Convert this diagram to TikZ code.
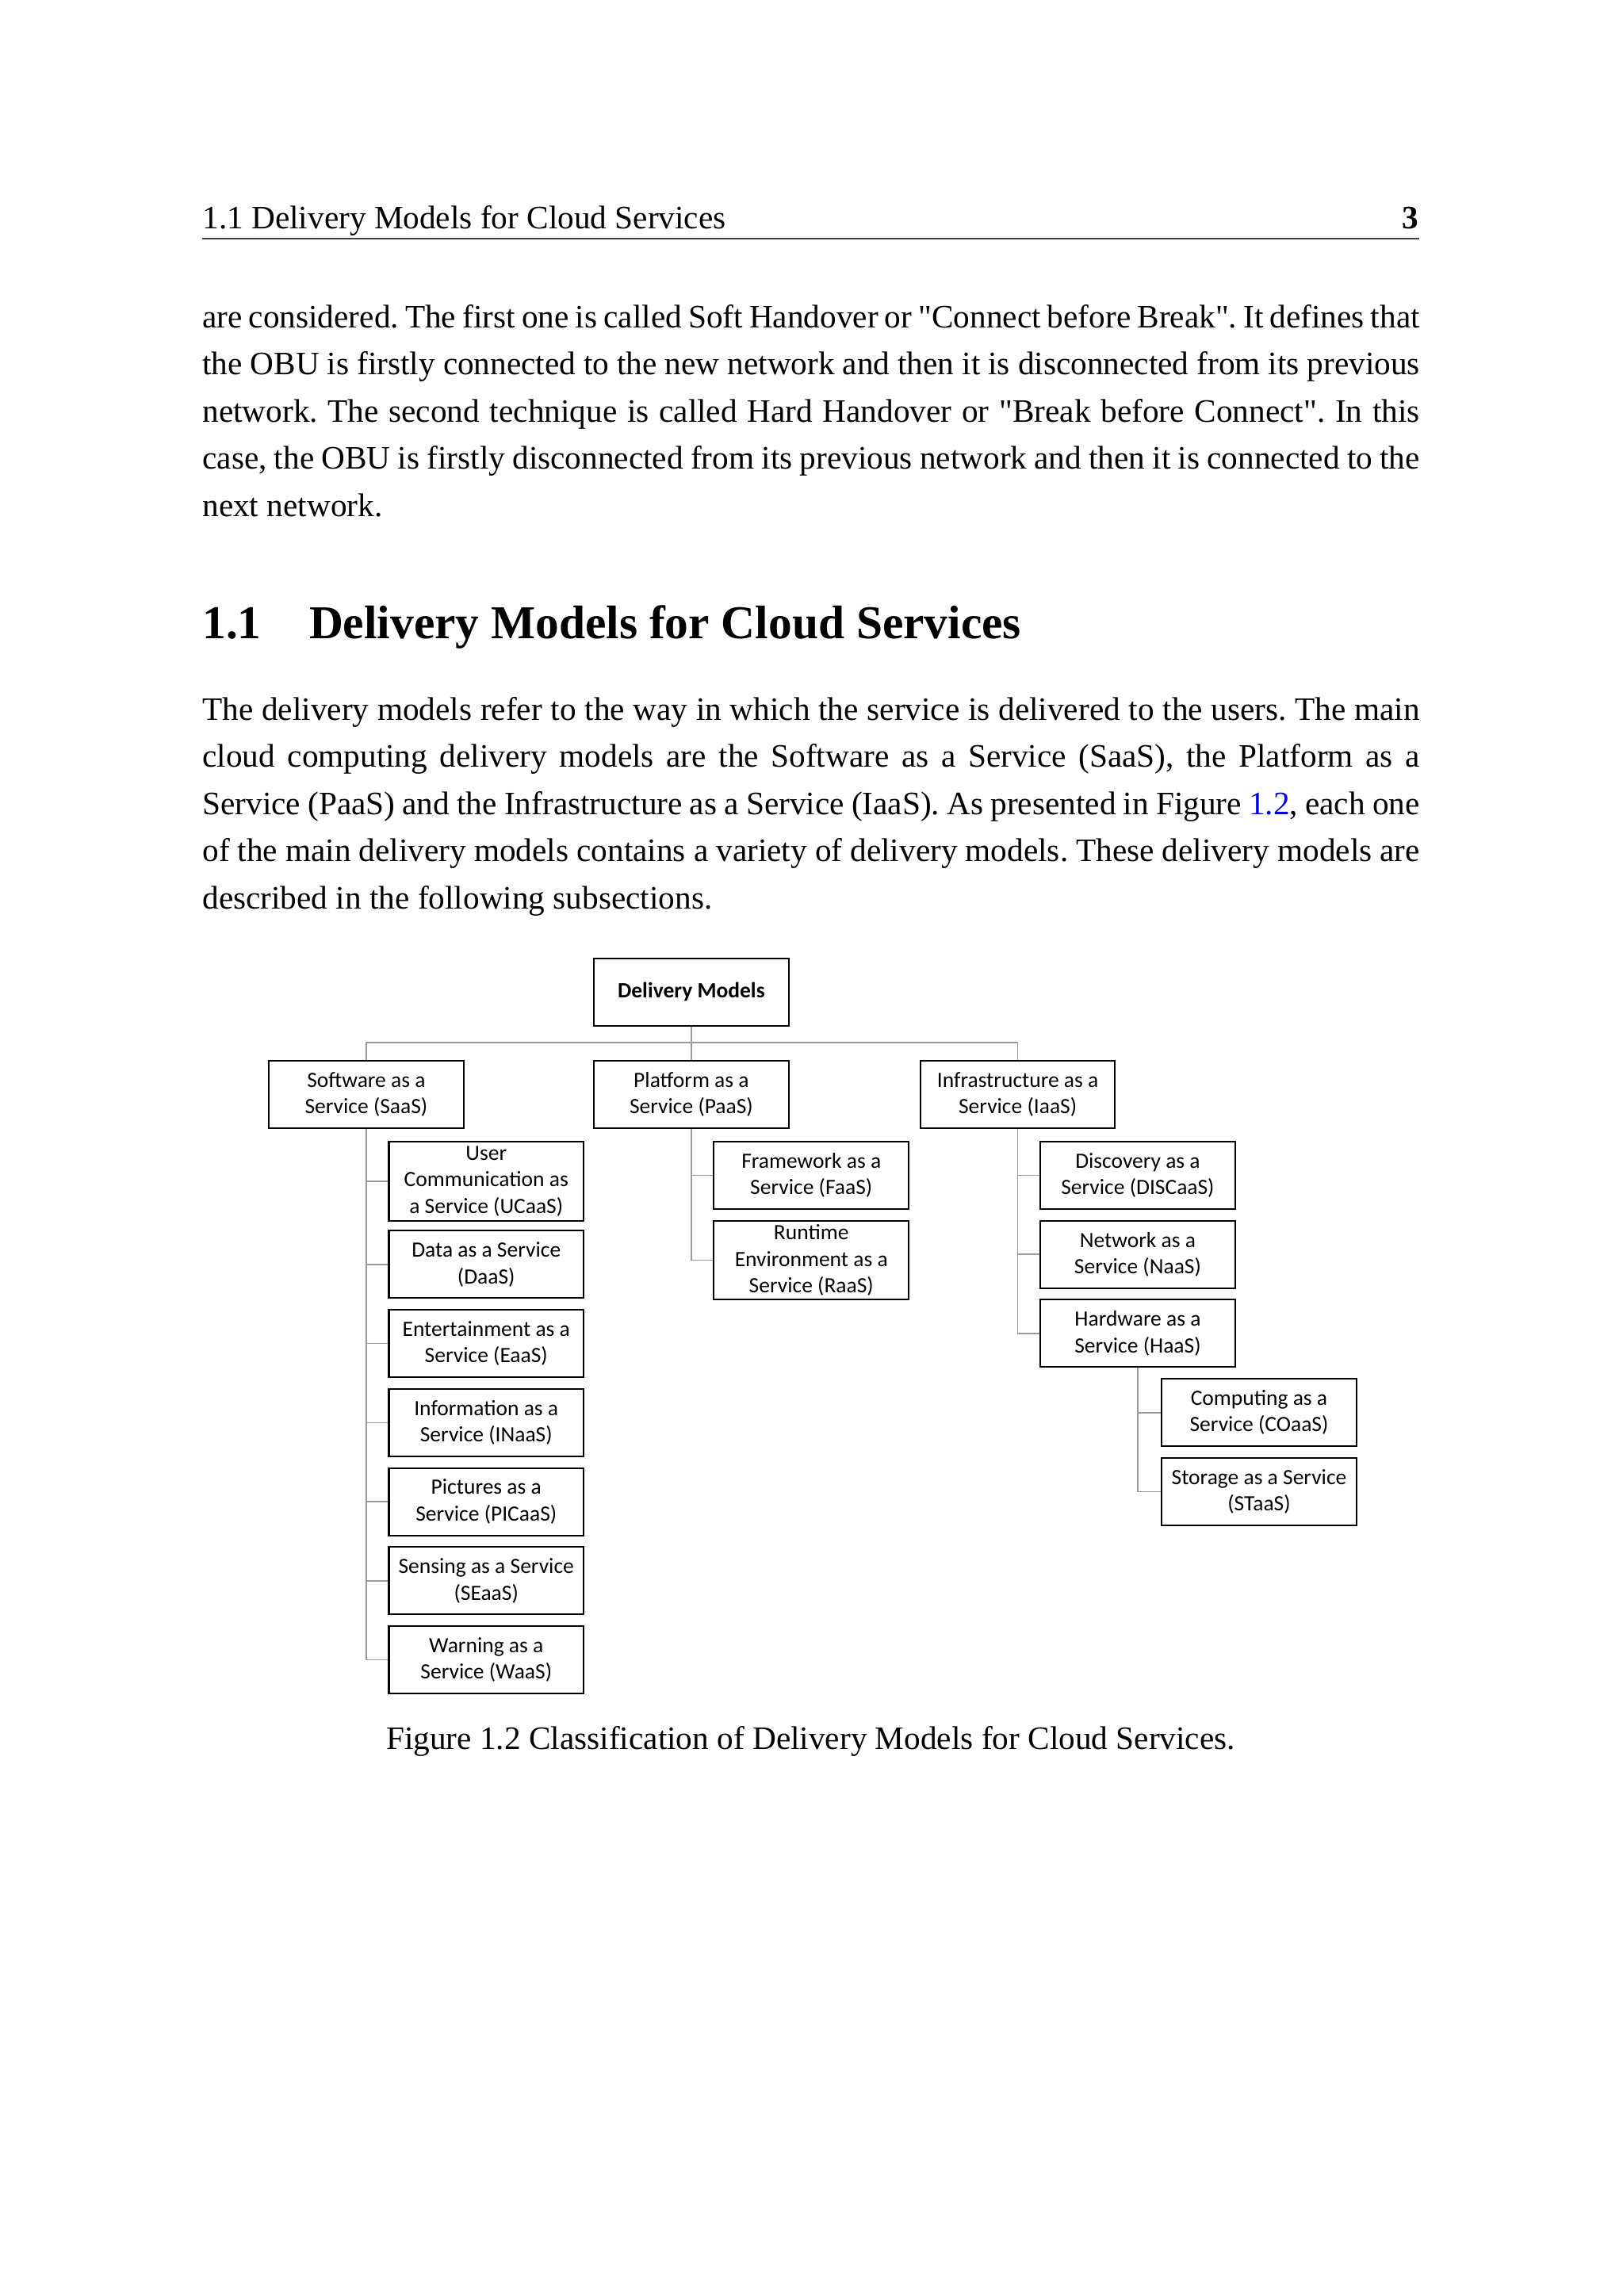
\documentclass[tikz,border=0pt]{standalone}
\usepackage{fontspec}
\setmainfont{Liberation Serif}[Ligatures=TeXOff]
\newfontfamily\chartfont{Carlito}
\usetikzlibrary{positioning}
\usepackage{xcolor}
\definecolor{linkgray}{gray}{0.6}
\definecolor{refblue}{rgb}{0,0,0.9}
\frenchspacing
\newcommand\fullline[1]{{\spaceskip=3pt plus 4pt minus 1.5pt\makebox[446.4pt][s]{#1}}}

\begin{document}
\begin{tikzpicture}[x=1pt,y=1pt,
  model/.style={draw, line width=0.6pt, minimum width=71.4pt, minimum height=24.7pt, inner sep=1pt, align=center, font=\chartfont\fontsize{8}{9.7}\selectfont},
  tall/.style={model, minimum height=29pt},
  link/.style={draw=linkgray, line width=0.5pt},
  plain/.style={anchor=base west, inner sep=0pt, font=\fontsize{12}{14}\selectfont},
  heading/.style={plain, font=\fontsize{17.28}{20}\selectfont\bfseries}]
\useasboundingbox[fill=white] (0,0) rectangle (595,-842);

\node[plain] (runhead) at (74.05,-83.8) {1.1 Delivery Models for Cloud Services};
\node[plain, anchor=base east, font=\fontsize{12}{14}\selectfont\bfseries] (pagenum) at (520.5,-83.8) {3};
\draw[line width=0.5pt, black!75] (74.05,-87.6) -- (520.5,-87.6);

\node[plain] (pa1) at (74.05,-120.2) {\fullline{are considered. The first one is called Soft Handover or "Connect before Break". It defines that}};
\node[plain] (pa2) at (74.05,-137.5) {\fullline{the OBU is firstly connected to the new network and then it is disconnected from its previous}};
\node[plain] (pa3) at (74.05,-154.8) {\fullline{network. The second technique is called Hard Handover or "Break before Connect". In this}};
\node[plain] (pa4) at (74.05,-172.1) {\fullline{case, the OBU is firstly disconnected from its previous network and then it is connected to the}};
\node[plain] (pa5) at (74.05,-189.4) {next network.};

\node[heading] (secnum) at (74.05,-234.3) {1.1};
\node[heading] (sectitle) at (113.2,-234.3) {Delivery Models for Cloud Services};

\node[plain] (pb1) at (74.05,-264.1) {\fullline{The delivery models refer to the way in which the service is delivered to the users. The main}};
\node[plain] (pb2) at (74.05,-281.4) {\fullline{cloud computing delivery models are the Software as a Service (SaaS), the Platform as a}};
\node[plain] (pb3) at (74.05,-298.7) {\fullline{Service (PaaS) and the Infrastructure as a Service (IaaS). As presented in Figure \textcolor{refblue}{1.2}, each one}};
\node[plain] (pb4) at (74.05,-316.0) {\fullline{of the main delivery models contains a variety of delivery models. These delivery models are}};
\node[plain] (pb5) at (74.05,-333.3) {described in the following subsections.};

\node[model, font=\chartfont\bfseries\fontsize{8}{9.7}\selectfont] (dm) at (253.5,-363.8) {Delivery Models};
\node[model] (paas) [below=12.3pt of dm] {Platform as a\\Service (PaaS)};
\node[model] (saas) [left=47.2pt of paas] {Software as a\\Service (SaaS)};
\node[model] (iaas) [right=47.7pt of paas] {Infrastructure as a\\Service (IaaS)};

\node[tall] (ucaas) [below right=4.3pt and 8pt of saas.south] {User\\Communication as\\a Service (UCaaS)};
\node[model] (daas) [below=3.1pt of ucaas] {Data as a Service\\(DaaS)};
\node[model] (eaas) [below=3.7pt of daas] {Entertainment as a\\Service (EaaS)};
\node[model] (inaas) [below=3.7pt of eaas] {Information as a\\Service (INaaS)};
\node[model] (picaas) [below=3.7pt of inaas] {Pictures as a\\Service (PICaaS)};
\node[model] (seaas) [below=3.7pt of picaas] {Sensing as a Service\\(SEaaS)};
\node[model] (waas) [below=3.7pt of seaas] {Warning as a\\Service (WaaS)};

\node[model] (faas) [below right=4.3pt and 8pt of paas.south] {Framework as a\\Service (FaaS)};
\node[tall] (raas) [below=3.7pt of faas] {Runtime\\Environment as a\\Service (RaaS)};

\node[model] (discaas) [below right=4.3pt and 8pt of iaas.south] {Discovery as a\\Service (DISCaaS)};
\node[model] (naas) [below=3.7pt of discaas] {Network as a\\Service (NaaS)};
\node[model] (haas) [below=3.7pt of naas] {Hardware as a\\Service (HaaS)};
\node[model] (coaas) [below right=3.7pt and 8.5pt of haas.south] {Computing as a\\Service (COaaS)};
\node[model] (staas) [below=3.7pt of coaas] {Storage as a Service\\(STaaS)};

\draw[link] (dm.south) -- (paas.north);
\draw[link] (saas.north) -- ++(0,6.4) -| (iaas.north);
\draw[link] (saas.south) |- (waas.west);
\foreach \c in {ucaas,daas,eaas,inaas,picaas,seaas}
  \draw[link] (\c.west) -- (\c.west -| saas.south);
\draw[link] (paas.south) |- (raas.west);
\draw[link] (faas.west) -- (faas.west -| paas.south);
\draw[link] (iaas.south) |- (haas.west);
\foreach \c in {discaas,naas}
  \draw[link] (\c.west) -- (\c.west -| iaas.south);
\draw[link] (haas.south) |- (staas.west);
\draw[link] (coaas.west) -- (coaas.west -| haas.south);

\node[plain, anchor=base] (caption) at (297.3,-641.4) {Figure 1.2 Classification of Delivery Models for Cloud Services.};
\end{tikzpicture}
\end{document}
